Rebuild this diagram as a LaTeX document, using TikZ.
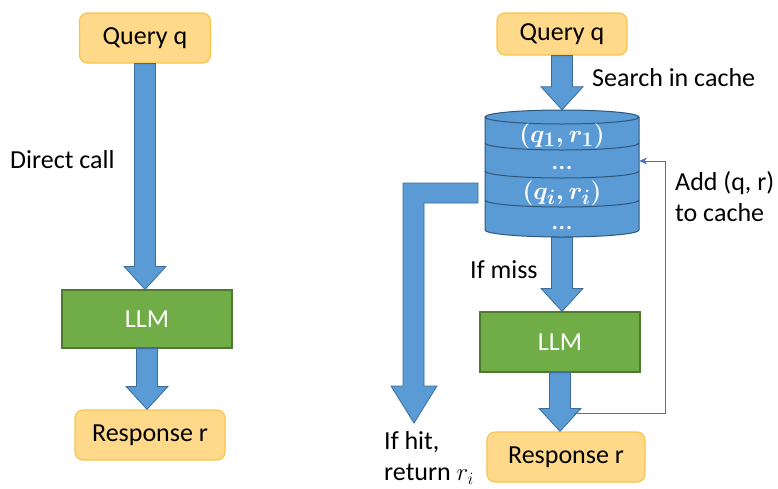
\documentclass[tikz,border=0pt]{standalone}
\usepackage{fontspec}
\setmainfont{Carlito}
\usetikzlibrary{arrows.meta,calc}

\definecolor{qfill}{HTML}{FFD98A}
\definecolor{qedge}{HTML}{F8C44E}
\definecolor{gfill}{HTML}{70AD47}
\definecolor{gedge}{HTML}{4E7A31}
\definecolor{bfill}{HTML}{5B9BD5}
\definecolor{bedge}{HTML}{3C6C98}
\definecolor{fline}{HTML}{4472C4}

\newcommand{\bigarrow}[2]{%
  \path[blockarr] let \p1=(#1.south), \p2=(#2.north) in
    ({\x1-10.5pt},\y1) -- ({\x1-10.5pt},{\y2+23pt}) -- ({\x1-21pt},{\y2+23pt})
    -- (\x1,\y2) -- ({\x1+21pt},{\y2+23pt}) -- ({\x1+10.5pt},{\y2+23pt})
    -- ({\x1+10.5pt},\y1) -- cycle;}

\begin{document}
\begin{tikzpicture}[x=1pt, y=-1pt,
    txt/.style = {font=\fontsize{26}{31}\selectfont},
    query/.style = {txt, draw=qedge, fill=qfill, line width=1.2pt, rounded corners=8pt, minimum height=50pt},
    llm/.style = {txt, draw=gedge, fill=gfill, line width=1.2pt, text=white, minimum height=58pt},
    blockarr/.style = {draw=bedge, fill=bfill, line width=0.8pt},
    note/.style = {txt, anchor=west, align=left, inner sep=0pt},
    cell/.style = {font=\fontsize{28}{32}\selectfont\boldmath, text=white, inner sep=0pt},
    cacheline/.style = {draw=bedge!80!black, line width=1pt},
    feedback/.style = {draw=fline, line width=1pt, -{Stealth[length=8pt,width=7pt]}}]
  \useasboundingbox (0,0) rectangle (778,488);

  % left: direct call
  \node[query, minimum width=131pt] (qL) at (145,38) {Query q};
  \node[llm, minimum width=170pt] (llmL) at (147,319) {LLM};
  \node[query, minimum width=150pt] (respL) at (150,435) {Response r};
  \bigarrow{qL}{llmL}
  \bigarrow{llmL}{respL}
  \node[note] (direct) at (10,160) {Direct call};

  % right: with cache
  \node[query, minimum width=130pt, minimum height=42pt] (qR) at (562,34) {Query q};
  \node[minimum width=154pt, minimum height=127pt, inner sep=0pt] (cache) at (562,173.5) {};
  \node[llm, minimum width=160pt, minimum height=60pt] (llmR) at (560,342) {LLM};
  \node[query, minimum width=158pt] (respR) at (566,457) {Response r};
  \bigarrow{qR}{cache}
  \bigarrow{cache}{llmR}
  \bigarrow{llmR}{respR}

  \coordinate (hitstart) at (478,193);
  \coordinate (hittip) at (414,423);
  \path[blockarr] (hitstart) ++(0,-10) -- (403,183) -- (403,386) -- (391,386)
    -- (hittip) -- (437,386) -- (424,386) -- (424,203) -- (478,203) -- cycle;

  \fill[bfill] (485,117) -- (485,230) arc[start angle=180, end angle=0, x radius=77, y radius=7]
    -- (639,117) -- cycle;
  \draw[cacheline] (485,117) -- (485,230) arc[start angle=180, end angle=0, x radius=77, y radius=7]
    -- (639,117);
  \draw[cacheline, fill=bfill] (562,117) ellipse[x radius=77, y radius=7];
  \foreach \yb in {143,171,200}
    \draw[cacheline] (485,\yb) arc[start angle=180, end angle=0, x radius=77, y radius=7];
  \node[cell] (c1) at (562,136) {$(q_1,r_1)$};
  \node[cell] (c2) at (562,168) {...};
  \node[cell] (c3) at (562,193) {$(q_i,r_i)$};
  \node[cell] (c4) at (562,228) {...};

  \coordinate (fb) at (574,413);
  \coordinate (fbc) at (665,161);
  \draw[feedback] (fb) -| (fbc) -- (cache.east |- fbc);

  \node[note] (search) at (592,78) {Search in cache};
  \node[note] (miss) at (470,270) {If miss};
  \node[note] (hit) at (384,458) {If hit,\\return $r_i$};
  \node[note] (add) at (675,197) {Add (q, r)\\to cache};
\end{tikzpicture}
\end{document}
